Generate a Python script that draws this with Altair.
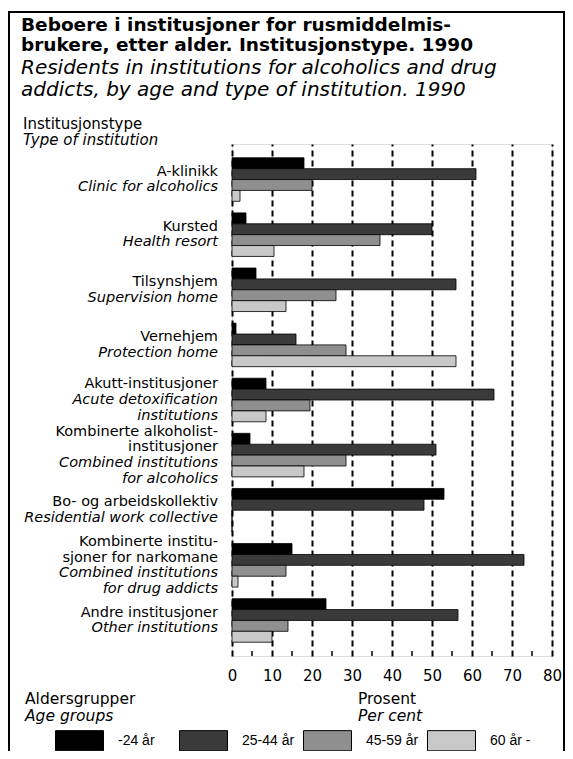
import altair as alt
import pandas as pd

categories = [
    "A-klinikk", "Kursted", "Tilsynshjem", "Vernehjem", "Akutt-institusjoner",
    "Kombinerte alkoholistinstitusjoner", "Bo- og arbeidskollektiv",
    "Kombinerte institusjoner for narkomane", "Andre institusjoner",
]
label_no = [
    ["A-klinikk"], ["Kursted"], ["Tilsynshjem"], ["Vernehjem"], ["Akutt-institusjoner"],
    ["Kombinerte alkoholist-", "institusjoner"], ["Bo- og arbeidskollektiv"],
    ["Kombinerte institu-", "sjoner for narkomane"], ["Andre institusjoner"],
]
label_en = [
    ["Clinic for alcoholics"], ["Health resort"], ["Supervision home"], ["Protection home"],
    ["Acute detoxification", "institutions"], ["Combined institutions", "for alcoholics"],
    ["Residential work collective"], ["Combined institutions", "for drug addicts"],
    ["Other institutions"],
]
age_groups = ["-24 år", "25-44 år", "45-59 år", "60 år -"]
share_under_25 = [18, 3.5, 6, 1, 8.5, 4.5, 53, 15, 23.5]
share_25_44 = [61, 50, 56, 16, 65.5, 51, 48, 73, 56.5]
share_45_59 = [20, 37, 26, 28.5, 19.5, 28.5, 0, 13.5, 14]
share_60_plus = [2, 10.5, 13.5, 56, 8.5, 18, 0, 1.5, 10]
x_ticks = [0, 10, 20, 30, 40, 50, 60, 70, 80]
minor_ticks = [5, 15, 25, 35, 45, 55, 65, 75]
title_lines = ["Beboere i institusjoner for rusmiddelmis-",
               "brukere, etter alder. Institusjonstype. 1990"]
subtitle_lines = ["Residents in institutions for alcoholics and drug",
                  "addicts, by age and type of institution. 1990"]
colors = ["#000000", "#3a3a3a", "#8f8f8f", "#c8c8c8"]

W, H = 320, 512
FONT = "DejaVu Sans"

series = [share_under_25, share_25_44, share_45_59, share_60_plus]
rows = []
for ci, cat in enumerate(categories):
    for ai, age in enumerate(age_groups):
        rows.append({"cat": cat, "age": age, "value": series[ai][ci]})
df = pd.DataFrame(rows)

xsc = alt.Scale(domain=[0, 80], nice=False, zero=True)
ysc = alt.Scale(domain=categories, paddingInner=0.21, paddingOuter=0.25)
x_axis = alt.Axis(values=x_ticks, tickCount=9, grid=True, gridDash=[6, 4], gridWidth=2,
                  gridColor="black", gridOpacity=1, domain=False, ticks=False,
                  labelPadding=12, labelFontSize=15, labelColor="black",
                  labelFont=FONT, labelFlush=False, labelOverlap=False)

bars = alt.Chart(df).mark_bar(stroke="black", strokeWidth=0.8).encode(
    x=alt.X("value:Q", scale=xsc, title=None, axis=x_axis),
    y=alt.Y("cat:N", scale=ysc, sort=categories, axis=None),
    yOffset=alt.YOffset("age:N", sort=age_groups,
                        scale=alt.Scale(domain=age_groups, paddingInner=0, paddingOuter=0)),
    color=alt.Color("age:N", scale=alt.Scale(domain=age_groups, range=colors),
                    legend=alt.Legend(title=None, orient="none", legendX=-177, legendY=572,
                                      direction="horizontal", columns=4, gridAlign="all",
                                      columnPadding=6, symbolType="M-1,-0.42H1V0.42H-1Z",
                                      symbolSize=2304, symbolStrokeColor="black",
                                      symbolStrokeWidth=1, symbolOpacity=1,
                                      labelFont="Liberation Sans", labelFontSize=14,
                                      labelColor="black", labelOffset=14, padding=0)),
)

minor = alt.Chart(pd.DataFrame({"value": minor_ticks})).mark_rule(color="black", strokeWidth=1.5).encode(
    x=alt.X("value:Q", scale=xsc, title=None, axis=x_axis),
    y=alt.value(H - 5), y2=alt.value(H),
)

# category labels (Norwegian upright, English italic)
LH = 15.6
label_rows = []
for ci, cat in enumerate(categories):
    lines = [(t, False) for t in label_no[ci]] + [(t, True) for t in label_en[ci]]
    n = len(lines)
    for i, (t, it) in enumerate(lines):
        label_rows.append({"cat": cat, "line": t, "italic": it, "dy": (i - (n - 1) / 2) * LH})
ldf = pd.DataFrame(label_rows)

label_layers = []
for (dy, it), sub in ldf.groupby(["dy", "italic"]):
    label_layers.append(
        alt.Chart(sub).mark_text(align="right", baseline="middle", dy=float(dy), font=FONT,
                                 fontSize=14.5, fontStyle="italic" if it else "normal",
                                 color="black").encode(
            y=alt.Y("cat:N", scale=ysc, sort=categories, axis=None),
            x=alt.value(-14),
            text="line:N",
        )
    )


def note(text, x, y, italic=False, bold=False, size=15):
    return alt.Chart(pd.DataFrame({"t": [text]})).mark_text(
        align="left", baseline="alphabetic", font=FONT, fontSize=size,
        fontStyle="italic" if italic else "normal",
        fontWeight="bold" if bold else "normal", color="black"
    ).encode(x=alt.value(x), y=alt.value(y), text="t:N")


notes = [
    note(title_lines[0], -211, -113, bold=True, size=18.5),
    note(title_lines[1], -211, -93, bold=True, size=18.5),
    note(subtitle_lines[0], -211, -70.5, italic=True, size=20),
    note(subtitle_lines[1], -211, -48, italic=True, size=20),
    note("Institusjonstype", -209, -15.5),
    note("Type of institution", -209, 1, italic=True),
    note("Aldersgrupper", -207, 560, size=15.5),
    note("Age groups", -207, 577, italic=True, size=15.5),
    note("Prosent", 126, 560, size=15.5),
    note("Per cent", 126, 577, italic=True, size=15.5),
]

frame = alt.Chart(pd.DataFrame({"a": [0]})).mark_rect(
    fill="transparent", stroke="black", strokeWidth=2
).encode(x=alt.value(-223), x2=alt.value(332), y=alt.value(-132), y2=alt.value(700))

chart = alt.layer(frame, bars, minor, *label_layers, *notes).properties(
    width=W, height=H,
    autosize=alt.AutoSizeParams(type="none"),
    padding={"left": 224, "top": 136, "right": 13, "bottom": 95},
).configure_view(stroke="black", strokeWidth=2.5).configure(background="white")

chart.save("out.html", embed_options={"renderer": "svg", "actions": False})
